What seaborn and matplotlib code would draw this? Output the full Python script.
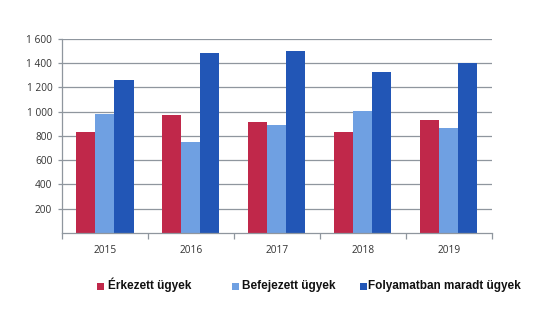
import matplotlib
matplotlib.use("Agg")
import matplotlib.pyplot as plt
import matplotlib.patches as mpatches
import seaborn as sns
import pandas as pd

# Case statistics per year
years = ["2015", "2016", "2017", "2018", "2019"]
series = ["Érkezett ügyek", "Befejezett ügyek", "Folyamatban maradt ügyek"]
erkezett = [830, 970, 912, 830, 934]
befejezett = [985, 750, 888, 1006, 868]
folyamatban = [1264, 1481, 1503, 1330, 1400]
y_ticks = [200, 400, 600, 800, 1000, 1200, 1400, 1600]
y_tick_labels = ["200", "400", "600", "800", "1 000", "1 200", "1 400", "1 600"]

colors = ["#C0284A", "#6FA0E2", "#2256B6"]

df = pd.DataFrame({
    "year": years * 3,
    "series": [series[0]] * 5 + [series[1]] * 5 + [series[2]] * 5,
    "value": erkezett + befejezett + folyamatban,
})

sns.set_theme(style="white")
plt.rcParams["font.family"] = ["Open Sans", "DejaVu Sans"]

W, H = 534, 331
fig = plt.figure(figsize=(W / 100, H / 100), dpi=100)
ax = fig.add_axes([0.1161, 0.2961, 0.8052, 0.5861])

sns.barplot(data=df, x="year", y="value", hue="series", order=years,
            hue_order=series, palette=colors, width=0.663, gap=0,
            saturation=1, ax=ax, legend=False, edgecolor="none")

grid_col = "#8F969E"
ax.set_ylim(0, 1600)
ax.set_xlim(-0.5, len(years) - 0.5)
ax.set_yticks(y_ticks)
ax.set_yticklabels(y_tick_labels)
ax.yaxis.grid(True, color=grid_col, linewidth=0.9)
ax.set_axisbelow(True)
ax.set_xlabel("")
ax.set_ylabel("")

for side in ["top", "right"]:
    ax.spines[side].set_visible(False)
for side in ["left", "bottom"]:
    ax.spines[side].set_color(grid_col)
    ax.spines[side].set_linewidth(0.9)

# category labels centred, tick marks at category boundaries
ax.set_xticks(range(len(years)))
ax.set_xticklabels(years)
ax.tick_params(axis="x", length=0, pad=9, labelsize=7.3, labelcolor="#333333")
ax.set_xticks([i - 0.5 for i in range(len(years) + 1)], minor=True)
ax.tick_params(axis="x", which="minor", length=4, color=grid_col, width=0.9,
               direction="out", bottom=True)
ax.tick_params(axis="y", length=3, color=grid_col, width=0.9, left=True,
               pad=4, labelsize=7.3, labelcolor="#333333")

# legend along the bottom: square key followed by bold label, shared baseline
key_px = [97, 232, 360]
text_px = [108, 242, 368]
baseline_px = 289.5
key_size = 6.5
for c, s, kx, tx in zip(colors, series, key_px, text_px):
    fig.patches.append(mpatches.Rectangle(
        (kx / W, 1 - baseline_px / H), key_size / W, key_size / H,
        transform=fig.transFigure, facecolor=c, edgecolor="none"))
    fig.text(tx / W, 1 - baseline_px / H, s, ha="left", va="baseline",
             family="Liberation Sans", weight="bold", fontsize=8.5,
             color="#111111")

fig.savefig("out.png", dpi=100)
